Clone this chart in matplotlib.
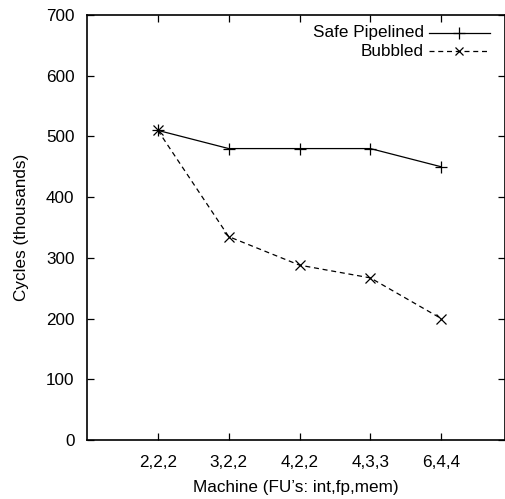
import matplotlib
matplotlib.use("Agg")
import matplotlib.pyplot as plt
from matplotlib.lines import Line2D

categories = ["2,2,2", "3,2,2", "4,2,2", "4,3,3", "6,4,4"]
safe_pipelined = [510, 480, 480, 480, 450]
bubbled = [510, 335, 288, 267, 200]
y_ticks = [0, 100, 200, 300, 400, 500, 600, 700]

FS = 12.3
plt.rcParams['font.family'] = ['Liberation Sans', 'DejaVu Sans']
fig = plt.figure(figsize=(5.06, 4.99), dpi=100)
ax = fig.add_axes([87/506, 1 - 440/499, (505 - 87)/506, (440 - 15)/499])

x = list(range(1, len(categories) + 1))
ax.plot(x, safe_pipelined, color='black', lw=0.9, marker='+', ms=9, mew=0.9,
        label='Safe Pipelined')
ax.plot(x, bubbled, color='black', lw=0.9, ls=(0, (4, 3)), marker='x', ms=7, mew=0.9,
        label='Bubbled')

ax.set_xlim(0, 5.9)
ax.set_ylim(0, 700)
ax.set_xticks(x)
ax.set_xticklabels(categories)
ax.set_yticks(y_ticks)
ax.tick_params(direction='in', length=5, width=0.9, labelsize=FS, top=True, right=True)
ax.tick_params(axis='x', pad=11)
ax.tick_params(axis='y', pad=9)
for s in ax.spines.values():
    s.set_linewidth(1.2)

ax.set_xlabel("Machine (FU\u2019s: int,fp,mem)", fontsize=FS, labelpad=7)
ax.set_ylabel("Cycles (thousands)", fontsize=FS, labelpad=12)

# gnuplot style legend: text right-aligned, sample to the right
rows = [("Safe Pipelined", '-', '+', 9), ("Bubbled", (0, (4, 3)), 'x', 6)]
for i, (lab, ls, mk, ms) in enumerate(rows):
    yp = 33 + i * 18
    fig.text(424/506, 1 - yp/499, lab, ha='right', va='center', fontsize=FS)
    fig.add_artist(Line2D([429/506, 490/506], [1 - yp/499, 1 - yp/499], color='black',
                          lw=0.9, ls=ls, transform=fig.transFigure))
    fig.add_artist(Line2D([459/506], [1 - yp/499], color='black', marker=mk, ms=ms, mew=0.9,
                          ls='none', transform=fig.transFigure))

fig.savefig("out.png", dpi=100)
